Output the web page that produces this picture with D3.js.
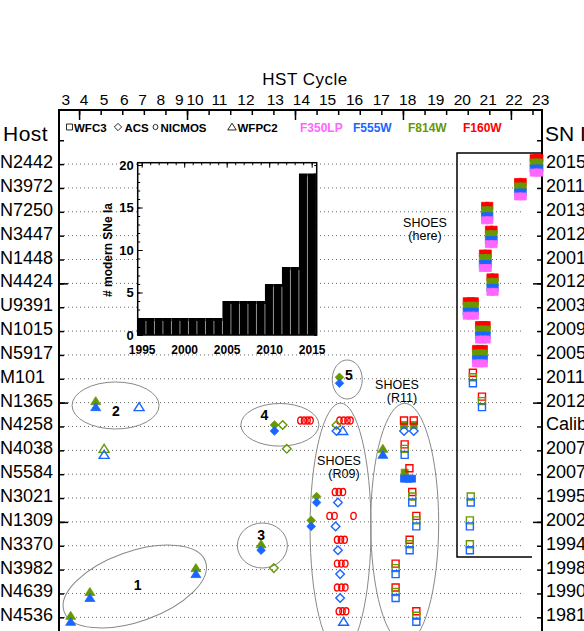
<!DOCTYPE html>
<html>
<head>
<meta charset="utf-8">
<script src="https://cdn.jsdelivr.net/npm/d3@7"></script>
<style>
body { margin: 0; background: #fff; }
svg { display: block; font-family: "Liberation Sans", Arial, sans-serif; }
</style>
</head>
<body>
<svg id="chart" width="584" height="631"></svg>
<script>
// hosts, top to bottom, and the SN in each one
var hosts = ["N2442","N3972","N7250","N3447","N1448","N4424","U9391","N1015","N5917","M101",
             "N1365","N4258","N4038","N5584","N3021","N1309","N3370","N3982","N4639","N4536"];
var snNames = ["2015F","2011by","2013dy","2012ht","2001el","2012cg","2003du","2009ig","2005cf","2011fe",
               "2012fr","Calibrator","2007sr","2007af","1995al","2002fk","1994ae","1998aq","1990N","1981B"];

// HST cycle numbers and the date each one starts
var cycles = [3,4,5,6,7,8,9,10,11,12,13,14,15,16,17,18,19,20,21,22,23];
var cycleStarts = [1994.38,1995.23,1996.16,1997.09,1997.94,1998.79,1999.64,2000.37,2001.50,2002.73,
                   2004.09,2005.30,2006.51,2007.76,2009.00,2010.22,2011.52,2012.75,2013.95,2015.14,2016.38];

// inset histogram
var histYears  = [1995,1996,1997,1998,1999,2000,2001,2002,2003,2004,2005,2006,2007,2008,2009,2010,2011,2012,2013,2014,2015];
var histCounts = [2,2,2,2,2,2,2,2,2,2,4,4,4,4,4,6,6,8,8,19,19];

// observations: [host, date, filters, filled]
var wfpc2Obs = [
    ["N4536", 1994.61, "F814W F555W", 1],
    ["N4639", 1995.50, "F814W F555W", 1],
    ["N1365", 1995.77, "F814W F555W", 1],
    ["N4038", 1996.16, "F814W F555W", 0],
    ["N1365", 1997.78, "F555W", 0],
    ["N3982", 2000.41, "F814W F555W", 1],
    ["N3370", 2003.43, "F814W", 1],
    ["N4258", 2007.21, "F555W", 0],
    ["N4536", 2007.25, "F555W", 0],
    ["N4038", 2009.07, "F814W F555W", 1]
];
var acsObs = [
    ["N3370", 2003.43, "F555W", 1],
    ["N4258", 2004.05, "F814W F555W", 1],
    ["N3982", 2004.02, "F814W", 0],
    ["N4258", 2004.43, "F814W", 0],
    ["N4038", 2004.62, "F814W", 0],
    ["N1309", 2005.75, "F814W F555W", 1],
    ["N3021", 2006.00, "F814W F555W", 1],
    ["N4258", 2006.92, "F814W F555W", 0],
    ["N1309", 2006.88, "F555W", 0],
    ["N3021", 2006.99, "F555W", 0],
    ["N3370", 2006.99, "F555W", 0],
    ["N3982", 2007.09, "F555W", 0],
    ["N4639", 2007.09, "F555W", 0],
    ["M101",  2007.06, "F814W F555W", 1],
    ["N4258", 2010.05, "F555W", 0],
    ["N4258", 2010.50, "F555W", 0]
];
var nicmosObs = [
    ["N4258", 2005.25], ["N4258", 2005.42], ["N4258", 2005.58], ["N4258", 2005.72],
    ["N4258", 2007.06], ["N4258", 2007.25], ["N4258", 2007.43], ["N4258", 2007.57],
    ["N3021", 2006.85], ["N3021", 2007.03], ["N3021", 2007.22],
    ["N1309", 2006.60], ["N1309", 2006.83], ["N1309", 2007.71],
    ["N3370", 2006.95], ["N3370", 2007.13], ["N3370", 2007.30],
    ["N3982", 2006.95], ["N3982", 2007.15], ["N3982", 2007.33],
    ["N4639", 2006.95], ["N4639", 2007.15], ["N4639", 2007.33],
    ["N4536", 2007.03], ["N4536", 2007.20], ["N4536", 2007.37]
];
var wfc3Obs = [
    // R11
    ["N4258", 2010.05, "F160W", 0], ["N4258", 2010.05, "F814W", 1],
    ["N4258", 2010.50, "F160W", 0], ["N4258", 2010.50, "F814W", 1],
    ["N4038", 2010.08, "F160W F814W F555W", 0],
    ["N5584", 2010.05, "F555W", 1], ["N5584", 2010.25, "F555W", 1], ["N5584", 2010.42, "F555W", 1],
    ["N5584", 2010.08, "F814W", 1], ["N5584", 2010.30, "F160W", 0],
    ["N3021", 2010.43, "F160W F814W F555W", 0],
    ["N1309", 2010.62, "F160W F814W F555W", 0],
    ["N3370", 2010.31, "F160W F814W F555W", 0],
    ["N3982", 2009.66, "F160W F814W F555W", 0],
    ["N4639", 2009.66, "F160W F814W F555W", 0],
    ["N4536", 2010.62, "F160W F814W F555W", 0],
    // this program
    ["N2442", 2016.05, "F160W F814W F555W F350LP", 1], ["N2442", 2016.20, "F160W F814W F555W F350LP", 1],
    ["N2442", 2016.32, "F160W F814W F555W F350LP", 1],
    ["N3972", 2015.33, "F160W F814W F555W F350LP", 1], ["N3972", 2015.55, "F160W F814W F555W F350LP", 1],
    ["N7250", 2013.80, "F160W F814W F555W F350LP", 1], ["N7250", 2014.00, "F160W F814W F555W F350LP", 1],
    ["N3447", 2013.98, "F160W F814W F555W F350LP", 1], ["N3447", 2014.20, "F160W F814W F555W F350LP", 1],
    ["N1448", 2013.70, "F160W F814W F555W F350LP", 1], ["N1448", 2013.93, "F160W F814W F555W F350LP", 1],
    ["N4424", 2014.05, "F160W F814W F555W F350LP", 1], ["N4424", 2014.25, "F160W F814W F555W F350LP", 1],
    ["U9391", 2012.95, "F160W F814W F555W F350LP", 1], ["U9391", 2013.15, "F160W F814W F555W F350LP", 1],
    ["U9391", 2013.33, "F160W F814W F555W F350LP", 1],
    ["N1015", 2013.52, "F160W F814W F555W F350LP", 1], ["N1015", 2013.70, "F160W F814W F555W F350LP", 1],
    ["N1015", 2013.88, "F160W F814W F555W F350LP", 1],
    ["N5917", 2013.38, "F160W F814W F555W F350LP", 1], ["N5917", 2013.56, "F160W F814W F555W F350LP", 1],
    ["N5917", 2013.75, "F160W F814W F555W F350LP", 1],
    ["M101",  2013.24, "F160W F814W F555W", 0],
    ["N1365", 2013.66, "F160W F814W F555W", 0],
    ["N3021", 2013.14, "F814W F555W", 0],
    ["N1309", 2013.10, "F814W F555W", 0],
    ["N3370", 2013.10, "F814W F555W", 0]
];

var filterColor = {F160W: "#ff0000", F814W: "#669900", F555W: "#1a66ff", F350LP: "#ff66ff"};
var filterShift = {F160W: -6, F814W: -1.5, F555W: 4.5, F350LP: 8.5};
var filterOrder = ["F160W", "F814W", "F555W", "F350LP"];
var shapes = {
    WFC3: "M-3.5,-3.5h7v7h-7Z",
    ACS: "M0,-4.3L4.3,0L0,4.3L-4.3,0Z",
    NICMOS: "M-2.7,0a2.7,3.5 0 1,0 5.4,0a2.7,3.5 0 1,0 -5.4,0Z",
    WFPC2: "M0,-4.5L5,3.5L-5,3.5Z"
};

var svg = d3.select("#chart");

var x = d3.scaleLinear().domain([1994.07, 2016.44]).range([59, 542]);
var y = d3.scaleLinear().domain([1, 20]).range([617.3, 164.1]);
var rowOf = {};
hosts.forEach(function(h, i) { rowOf[h] = 20 - i; });

// dotted row lines
svg.append("g").selectAll("line")
    .data(hosts)
    .enter().append("line")
    .attr("x1", 64).attr("x2", 522)
    .attr("y1", function(d) { return y(rowOf[d]); })
    .attr("y2", function(d) { return y(rowOf[d]); })
    .attr("stroke", "#666")
    .attr("stroke-width", 1)
    .attr("stroke-dasharray", "1,3");

// frame
svg.append("path")
    .attr("d", "M59,631V110H542V631")
    .attr("fill", "none").attr("stroke", "#000").attr("stroke-width", 2);

function noDomain(g) { g.select(".domain").remove(); g.selectAll(".tick line").attr("stroke-width", 1.5); }

// top axis: years
svg.append("g").attr("transform", "translate(0,110)")
    .call(d3.axisBottom(x).tickValues(d3.range(1995, 2017)).tickSize(5).tickFormat(""))
    .call(noDomain);
svg.append("g").attr("transform", "translate(0,110)")
    .call(d3.axisBottom(x).tickValues([1995, 2000, 2005, 2010, 2015]).tickSize(10).tickFormat(""))
    .call(noDomain);

// side ticks
var rowTicks = d3.range(1, 22);
[[59, d3.axisRight], [542, d3.axisLeft]].forEach(function(s) {
    svg.append("g").attr("transform", "translate(" + s[0] + ",0)")
        .call(s[1](y).tickValues(rowTicks).tickSize(5).tickFormat(""))
        .call(noDomain);
    svg.append("g").attr("transform", "translate(" + s[0] + ",0)")
        .call(s[1](y).tickValues([5, 10, 15]).tickSize(9).tickFormat(""))
        .call(noDomain);
});

// cycle labels
svg.append("g").selectAll("text")
    .data(cycles)
    .enter().append("text")
    .attr("x", function(d, i) { return x(cycleStarts[i]); })
    .attr("y", 105)
    .attr("text-anchor", "middle")
    .attr("font-size", 15.5)
    .text(function(d) { return d; });

svg.append("text").attr("x", 305).attr("y", 85).attr("text-anchor", "middle")
    .attr("font-size", 17).attr("letter-spacing", 0.5).text("HST Cycle");
svg.append("text").attr("x", 3).attr("y", 141).attr("font-size", 21).attr("letter-spacing", 0.5).text("Host");
svg.append("text").attr("x", 545).attr("y", 141).attr("font-size", 21).text("SN Ia");

// host and SN names
svg.append("g").selectAll("text")
    .data(hosts)
    .enter().append("text")
    .attr("x", 0)
    .attr("y", function(d) { return y(rowOf[d]) + 4; })
    .attr("font-size", 18)
    .text(function(d) { return d; });
svg.append("g").selectAll("text")
    .data(snNames)
    .enter().append("text")
    .attr("x", 546)
    .attr("y", function(d, i) { return y(20 - i) + 4; })
    .attr("font-size", 18)
    .text(function(d) { return d; });

// legend
var legendInst = [["WFC3", 69.5, 74], ["ACS", 118, 124.5], ["NICMOS", 155.5, 160.5], ["WFPC2", 232, 237.5]];
legendInst.forEach(function(l) {
    svg.append("path").attr("d", shapes[l[0]])
        .attr("transform", "translate(" + l[1] + ",127)" + (l[0] == "NICMOS" ? " scale(0.9,0.75)" : " scale(0.85)"))
        .attr("fill", "none").attr("stroke", "#000").attr("stroke-width", 1);
    svg.append("text").attr("x", l[2]).attr("y", 131.5).attr("font-size", 11.5)
        .attr("font-weight", "bold").text(l[0]);
});
var legendFilt = [["F350LP", 300], ["F555W", 353], ["F814W", 408], ["F160W", 463]];
legendFilt.forEach(function(l) {
    svg.append("text").attr("x", l[1]).attr("y", 131.5).attr("font-size", 12)
        .attr("font-weight", "bold").attr("fill", filterColor[l[0]]).text(l[0]);
});

// group outlines
var grp = svg.append("g").attr("fill", "none").attr("stroke", "#888").attr("stroke-width", 1);
var ellipses = [
    [1997.58, 2.29, 75, 35, -19.5],
    [1996.69, 9.88, 43.5, 23.5, 0],
    [2003.49, 4.01, 25, 22.5, 0],
    [2004.30, 9.07, 39, 21.3, 0],
    [2007.42, 10.97, 15, 19.5, 0],
    [2007.11, 4.74, 30.5, 125, 0],
    [2010.08, 4.94, 34, 120, 0]
];
ellipses.forEach(function(e) {
    grp.append("ellipse")
        .attr("transform", "translate(" + x(e[0]) + "," + y(e[1]) + ") rotate(" + e[4] + ")")
        .attr("rx", e[2]).attr("ry", e[3]);
});
var groupLabels = [["1", 1997.71, 2.35], ["2", 1996.70, 9.66], ["3", 2003.43, 4.45], ["4", 2003.58, 9.48], ["5", 2007.50, 11.16]];
svg.append("g").selectAll("text")
    .data(groupLabels)
    .enter().append("text")
    .attr("x", function(d) { return x(d[1]); })
    .attr("y", function(d) { return y(d[2]) + 5; })
    .attr("text-anchor", "middle")
    .attr("font-size", 14).attr("font-weight", "bold")
    .text(function(d) { return d[0]; });

function twoLine(cx, cy, a, b) {
    svg.append("text").attr("x", cx).attr("y", cy).attr("text-anchor", "middle")
        .attr("font-size", 12.5).text(a);
    svg.append("text").attr("x", cx + (b == "(here)" ? 0 : 5)).attr("y", cy + 13).attr("text-anchor", "middle")
        .attr("font-size", 12.5).text(b);
}
twoLine(397, 389, "SHOES", "(R11)");
twoLine(339, 465, "SHOES", "(R09)");
twoLine(425, 227, "SHOES", "(here)");

// box around this program
svg.append("path")
    .attr("d", "M542,153H457V557H532")
    .attr("fill", "none").attr("stroke", "#000").attr("stroke-width", 1.5);

// observation markers
function expand(list, inst) {
    var out = [];
    list.forEach(function(d) {
        d[2].split(" ").forEach(function(f) {
            out.push({host: d[0], year: d[1], filter: f, filled: d[3], inst: inst});
        });
    });
    return out;
}
var points = [].concat(
    expand(wfpc2Obs, "WFPC2"),
    expand(acsObs, "ACS"),
    expand(nicmosObs.map(function(d) { return [d[0], d[1], "F160W", 0]; }), "NICMOS"),
    expand(wfc3Obs, "WFC3"));
points.sort(function(a, b) {
    return (b.filled - a.filled) || (filterOrder.indexOf(a.filter) - filterOrder.indexOf(b.filter));
});

svg.append("g").selectAll("path")
    .data(points)
    .enter().append("path")
    .attr("d", function(d) { return shapes[d.inst]; })
    .attr("transform", function(d) {
        return "translate(" + x(d.year) + "," + (y(rowOf[d.host]) + filterShift[d.filter]) + ")";
    })
    .attr("fill", function(d) { return d.filled ? filterColor[d.filter] : "none"; })
    .attr("stroke", function(d) { return filterColor[d.filter]; })
    .attr("stroke-width", function(d) { return d.filled ? 0.8 : 1.4; });

// inset histogram
var hx = d3.scaleLinear().domain([1994.53, 2015.59]).range([137.7, 316.7]);
var hy = d3.scaleLinear().domain([0, 20]).range([335, 165]);
var inset = svg.append("g");

inset.append("rect").attr("x", 137.7).attr("y", 162.7).attr("width", 179).attr("height", 172.3).attr("fill", "#fff");

inset.selectAll(".bar")
    .data(histYears)
    .enter().append("rect")
    .attr("class", "bar")
    .attr("x", function(d) { return hx(d - 0.5); })
    .attr("width", function(d) { return hx(d + 0.5) - hx(d - 0.5); })
    .attr("y", function(d, i) { return hy(histCounts[i]); })
    .attr("height", function(d, i) { return hy(0) - hy(histCounts[i]); })
    .attr("fill", "#000");

inset.selectAll(".sep")
    .data(histYears.slice(1))
    .enter().append("line")
    .attr("class", "sep")
    .attr("x1", function(d) { return hx(d - 0.5); })
    .attr("x2", function(d) { return hx(d - 0.5); })
    .attr("y1", hy(0))
    .attr("y2", function(d, i) { return hy(Math.min(histCounts[i], histCounts[i + 1])) + 3; })
    .attr("stroke", "#aaa").attr("stroke-width", 0.8);

inset.append("rect").attr("x", 137.7).attr("y", 162.7).attr("width", 179).attr("height", 172.3)
    .attr("fill", "none").attr("stroke", "#000").attr("stroke-width", 1.5);

function insetTicks(g) { g.select(".domain").remove(); g.selectAll(".tick line").attr("stroke-width", 1); }

inset.append("g").attr("transform", "translate(137.7,0)")
    .call(d3.axisLeft(hy).tickValues(d3.range(0, 21)).tickSize(-2.5).tickFormat(""))
    .call(insetTicks);
inset.append("g").attr("transform", "translate(137.7,0)")
    .call(d3.axisLeft(hy).tickValues([0, 5, 10, 15, 20]).tickSize(-5).tickPadding(4))
    .call(insetTicks)
    .selectAll("text").attr("font-size", 13).attr("font-weight", "bold")
    .attr("font-family", "Liberation Sans, Arial, sans-serif");
inset.append("g").attr("transform", "translate(316.7,0)")
    .call(d3.axisRight(hy).tickValues(d3.range(0, 21)).tickSize(-2.5).tickFormat(""))
    .call(insetTicks);
inset.append("g").attr("transform", "translate(316.7,0)")
    .call(d3.axisRight(hy).tickValues([5, 10, 15]).tickSize(-5).tickFormat(""))
    .call(insetTicks);
inset.append("g").attr("transform", "translate(0,162.7)")
    .call(d3.axisBottom(hx).tickValues(histYears).tickSize(2.5).tickFormat(""))
    .call(insetTicks);
inset.append("g").attr("transform", "translate(0,162.7)")
    .call(d3.axisBottom(hx).tickValues([1995, 2000, 2005, 2010, 2015]).tickSize(5).tickFormat(""))
    .call(insetTicks);
inset.append("g").attr("transform", "translate(0,335)")
    .call(d3.axisBottom(hx).tickValues([1995, 2000, 2005, 2010, 2015]).tickSize(0).tickPadding(10).tickFormat(d3.format("d")))
    .call(insetTicks)
    .selectAll("text").attr("font-size", 12).attr("font-weight", "bold")
    .attr("font-family", "Liberation Sans, Arial, sans-serif");

inset.append("text")
    .attr("transform", "translate(112,250) rotate(-90)")
    .attr("text-anchor", "middle")
    .attr("font-size", 12).attr("font-weight", "bold")
    .text("# modern SNe Ia");
</script>
</body>
</html>
